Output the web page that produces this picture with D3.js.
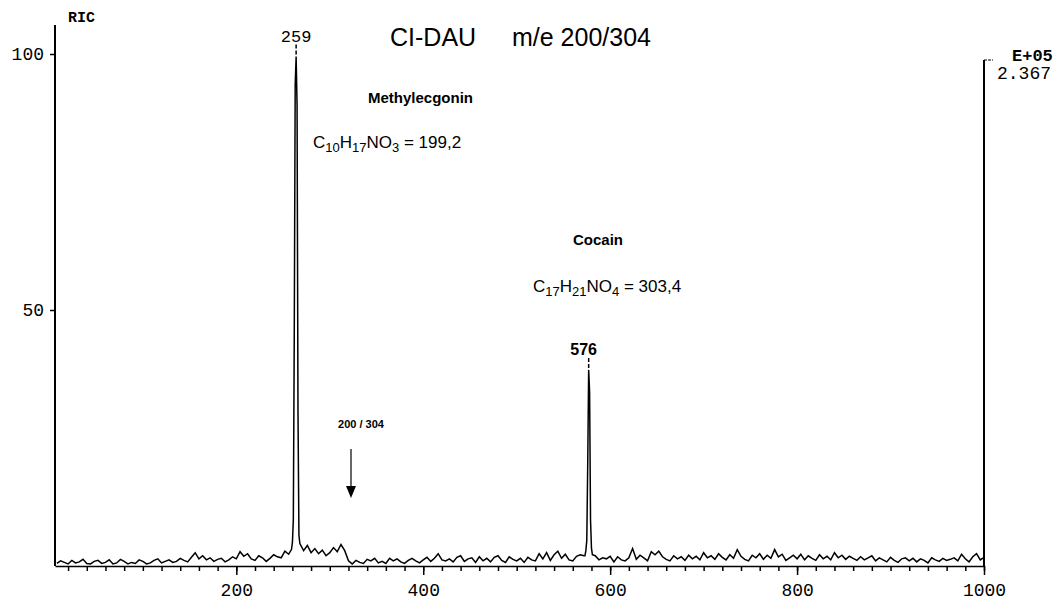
<!DOCTYPE html>
<html>
<head>
<meta charset="utf-8">
<script src="https://cdn.jsdelivr.net/npm/d3@7"></script>
<style>
  body { margin: 0; background: #fff; }
  svg { display: block; }
</style>
</head>
<body>
<div id="chart"></div>
<script>
// Trace values (% of RIC), one every 4 scans starting at scan 8
const traceStart = 8;
const traceStep = 4;
const traceValues = [
  0.5,1.0,0.7,0.4,1.1,0.6,0.8,1.3,0.5,0.4,
  0.9,1.1,0.5,0.7,1.2,0.4,0.6,1.3,0.9,0.4,
  0.7,0.5,1.2,0.9,0.4,0.6,1.1,1.4,0.6,0.9,
  1.2,0.7,0.9,1.5,1.1,0.8,1.7,2.6,1.4,2.0,
  1.2,1.6,0.9,1.3,1.5,0.8,1.2,1.8,1.4,2.8,
  1.9,2.4,1.4,1.1,2.0,1.6,0.9,1.5,2.2,1.8,
  1.6,2.9,2.3,3.8,4.0,4.4,3.0,4.0,2.6,3.4,
  2.4,3.1,2.0,2.6,3.6,2.8,4.2,3.0,1.0,0.4,
  1.1,0.7,0.5,1.3,1.0,1.5,0.6,0.9,0.5,1.5,
  1.0,1.4,0.8,0.5,1.1,1.5,1.0,0.6,1.2,1.7,
  0.9,1.5,2.4,1.2,1.0,1.4,0.8,1.7,2.0,0.9,
  1.4,1.6,0.7,1.8,1.0,1.5,0.8,1.7,2.0,1.1,
  0.7,1.8,1.3,1.0,1.5,0.7,1.7,1.2,1.0,2.4,
  1.4,2.6,1.1,2.2,2.9,1.5,2.3,1.2,1.0,1.9,
  2.2,2.0,2.0,2.0,2.0,1.2,1.6,1.4,1.9,0.8,
  1.8,1.2,1.0,1.6,3.4,1.3,2.1,1.6,1.0,2.8,
  2.2,2.9,1.8,1.3,1.0,2.0,1.4,1.8,1.1,2.1,
  1.4,1.9,1.2,2.6,1.6,2.0,1.3,2.4,1.7,1.2,
  2.2,1.5,3.2,1.9,1.3,1.0,2.1,1.6,2.4,1.3,
  2.1,1.5,3.2,1.8,2.3,1.1,1.6,2.1,1.4,2.3,
  1.2,2.0,1.5,1.1,2.2,1.4,1.9,1.2,2.6,1.6,
  2.1,1.3,1.9,1.5,1.1,1.8,1.2,1.6,2.0,1.0,
  1.6,1.2,0.8,1.7,1.1,0.7,1.4,1.6,1.0,1.5,
  0.8,1.4,1.1,0.6,1.6,1.2,0.9,1.5,1.1,1.3,
  1.6,1.0,2.3,1.4,0.8,1.8,2.4,1.2,1.7
];

// Peaks at finer scan resolution
const peak1Scans = [259, 260, 261, 262, 263, 264, 265, 266, 267];
const peak1Values = [3.2, 4.5, 9, 45, 94, 99.5, 90, 30, 6];
const peak2Scans = [573, 574, 575, 576, 577, 578, 579, 580, 581];
const peak2Values = [2.0, 3.0, 5.0, 20, 38.3, 34, 9, 3.5, 2.2];

const peakLabels = ["259", "576"];
const yTicks = [50, 100];
const xMajorTicks = [200, 400, 600, 800, 1000];
const xMinorTicks = d3.range(20, 1001, 20);

const width = 1064, height = 602;

const svg = d3.select("#chart").append("svg")
  .attr("width", width)
  .attr("height", height);

// scales
const x = d3.scaleLinear().domain([6, 1000]).range([55, 984]);
const y = d3.scaleLinear().domain([0, 100]).range([566, 54]);

// build trace: baseline points, with peak windows replaced by fine data
let trace = traceValues.map((v, i) => ({ scan: traceStart + i * traceStep, v: v }));
[[peak1Scans, peak1Values], [peak2Scans, peak2Values]].forEach(([s, vals]) => {
  const lo = s[0], hi = s[s.length - 1];
  trace = trace.filter(d => d.scan < lo || d.scan > hi);
  s.forEach((sc, i) => trace.push({ scan: sc, v: vals[i] }));
});
trace.sort((a, b) => a.scan - b.scan);

const mono = "'Liberation Mono', 'Courier New', monospace";
const sans = "'Liberation Sans', Arial, sans-serif";

// left axis line
svg.append("line")
  .attr("x1", 55).attr("x2", 55)
  .attr("y1", 25).attr("y2", y(0))
  .attr("stroke", "#000").attr("stroke-width", 2);

// right axis line with top mark
svg.append("line")
  .attr("x1", x(1000)).attr("x2", x(1000))
  .attr("y1", 60).attr("y2", y(0))
  .attr("stroke", "#000").attr("stroke-width", 2);
svg.append("line")
  .attr("x1", x(1000)).attr("x2", x(1000) + 9)
  .attr("y1", 60).attr("y2", 60)
  .attr("stroke", "#000").attr("stroke-width", 1.2)
  .attr("stroke-dasharray", "3,1");

// y axis ticks
const yAxis = svg.append("g")
  .attr("transform", "translate(55,0)")
  .call(d3.axisLeft(y).tickValues(yTicks).tickSize(5).tickPadding(6));
yAxis.select(".domain").remove();
yAxis.selectAll("line").attr("stroke-width", 1.5);
yAxis.selectAll("text")
  .attr("font-family", mono).attr("font-size", 18).attr("fill", "#000");

// x axis: minor ticks
const xMinor = svg.append("g")
  .attr("transform", `translate(0,${y(0)})`)
  .call(d3.axisBottom(x).tickValues(xMinorTicks).tickSize(5).tickFormat(""));
xMinor.select(".domain").remove();
xMinor.selectAll("line").attr("stroke-width", 1.5);

// x axis: major ticks and labels
const xMajor = svg.append("g")
  .attr("transform", `translate(0,${y(0)})`)
  .call(d3.axisBottom(x).tickValues(xMajorTicks).tickSize(9).tickSizeOuter(0)
    .tickPadding(8).tickFormat(d3.format("d")));
xMajor.select(".domain").attr("stroke-width", 1.5);
xMajor.selectAll("line").attr("stroke-width", 1.5);
xMajor.selectAll("text")
  .attr("font-family", mono).attr("font-size", 18).attr("fill", "#000");

// trace
const line = d3.line()
  .x(d => x(d.scan))
  .y(d => y(d.v));
svg.append("path")
  .datum(trace)
  .attr("d", line)
  .attr("fill", "none")
  .attr("stroke", "#000")
  .attr("stroke-width", 1.5)
  .attr("stroke-linejoin", "miter");

// peak labels and dashed markers
const peaks = [
  { scan: peak1Scans[d3.maxIndex(peak1Values)], v: d3.max(peak1Values), label: peakLabels[0], font: mono, size: 17, weight: "normal", dx: 0 },
  { scan: peak2Scans[d3.maxIndex(peak2Values)], v: d3.max(peak2Values), label: peakLabels[1], font: sans, size: 16, weight: "bold", dx: -5 }
];
peaks.forEach(p => {
  const px = x(p.scan), top = y(p.v);
  svg.append("line")
    .attr("x1", px).attr("x2", px)
    .attr("y1", top - 12).attr("y2", top - 2)
    .attr("stroke", "#000").attr("stroke-width", 1.5)
    .attr("stroke-dasharray", "4,2");
  svg.append("text")
    .attr("x", px + p.dx).attr("y", top - 15)
    .attr("text-anchor", "middle")
    .attr("font-family", p.font).attr("font-size", p.size).attr("font-weight", p.weight)
    .text(p.label);
});

// axis annotations
svg.append("text").attr("x", 68).attr("y", 22)
  .attr("font-family", mono).attr("font-size", 15).attr("font-weight", "bold")
  .text("RIC");
svg.append("text").attr("x", 1012).attr("y", 61)
  .attr("font-family", mono).attr("font-size", 17).attr("font-weight", "bold")
  .text("E+05");
svg.append("text").attr("x", 997).attr("y", 79)
  .attr("font-family", mono).attr("font-size", 18)
  .text("2.367");

// title
svg.append("text").attr("x", 390).attr("y", 46)
  .attr("font-family", sans).attr("font-size", 25)
  .text("CI-DAU");
svg.append("text").attr("x", 512).attr("y", 46)
  .attr("font-family", sans).attr("font-size", 25)
  .text("m/e 200/304");

// compound labels
svg.append("text").attr("x", 368).attr("y", 103)
  .attr("font-family", sans).attr("font-size", 15).attr("font-weight", "bold")
  .text("Methylecgonin");
svg.append("text").attr("x", 573).attr("y", 245)
  .attr("font-family", sans).attr("font-size", 15).attr("font-weight", "bold")
  .text("Cocain");

function formula(xp, yp, parts) {
  const t = svg.append("text").attr("x", xp).attr("y", yp)
    .attr("font-family", sans).attr("font-size", 17);
  parts.forEach(([s, sub]) => {
    t.append("tspan")
      .attr("font-size", sub === 1 ? 13 : 17)
      .attr("dy", sub === 1 ? 4 : (sub === -1 ? -4 : 0))
      .text(s);
  });
}
formula(313, 148, [["C", 0], ["10", 1], ["H", -1], ["17", 1], ["NO", -1], ["3", 1], [" = 199,2", -1]]);
formula(533, 292, [["C", 0], ["17", 1], ["H", -1], ["21", 1], ["NO", -1], ["4", 1], [" =  303,4", -1]]);

// 200/304 marker with arrow
svg.append("text").attr("x", 361).attr("y", 428)
  .attr("text-anchor", "middle")
  .attr("font-family", sans).attr("font-size", 11).attr("font-weight", "bold")
  .text("200 / 304");
svg.append("line")
  .attr("x1", 351).attr("x2", 351).attr("y1", 449).attr("y2", 488)
  .attr("stroke", "#000").attr("stroke-width", 1.2);
svg.append("path")
  .attr("d", "M346,486 L356,486 L351,498 Z")
  .attr("fill", "#000");
</script>
</body>
</html>
